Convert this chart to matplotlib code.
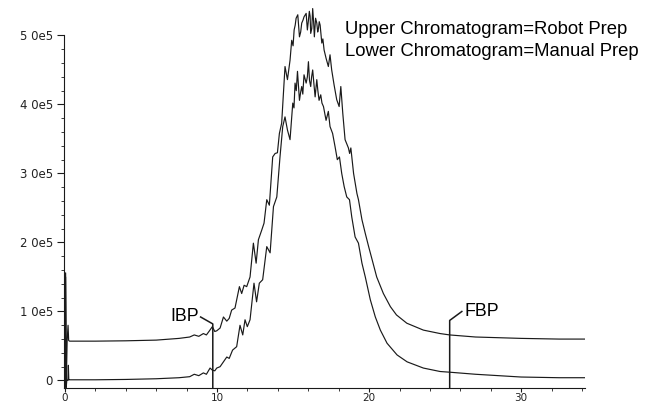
import matplotlib
matplotlib.use("Agg")
import matplotlib.pyplot as plt
from matplotlib.ticker import MultipleLocator, FixedLocator

# retention time (min) and abundance (x 1e5)
upper_time = [0.0, 0.04, 0.09, 0.14, 0.2, 0.24, 0.3, 2, 4, 6, 7.5, 8.2, 8.5, 8.8, 9.1, 9.3,
              9.5, 9.69, 9.85, 9.98, 10.2, 10.42, 10.64, 10.8, 10.96, 11.18, 11.47, 11.62,
              11.78, 11.95, 12.17, 12.39, 12.57, 12.72, 12.94, 13.09, 13.27, 13.44, 13.66,
              13.82, 13.97, 14.1, 14.25, 14.47, 14.63, 14.8, 14.91, 15.0, 15.07, 15.14,
              15.2, 15.31, 15.42, 15.5, 15.57, 15.65, 15.72, 15.86, 15.94, 16.0, 16.07,
              16.12, 16.16, 16.23, 16.29, 16.35, 16.4, 16.48, 16.56, 16.62, 16.67, 16.72,
              16.78, 16.89, 16.96, 17.04, 17.17, 17.32, 17.43, 17.54, 17.7, 17.87, 18.03,
              18.14, 18.27, 18.42, 18.64, 18.72, 18.8, 18.98, 19.2, 19.3, 19.53, 19.75,
              19.97, 20.2, 20.5, 20.94, 21.4, 21.8, 22.48, 23.57, 24.67, 25.3, 27, 30,
              32.5, 34.2]
upper_abund = [-0.08, 1.56, 0.0, 0.57, 0.8, 0.58, 0.57, 0.57, 0.575, 0.585, 0.61, 0.63, 0.66,
               0.64, 0.68, 0.66, 0.72, 0.78, 0.71, 0.72, 0.76, 0.92, 0.86, 0.9, 1.02, 1.05,
               1.36, 1.26, 1.38, 1.36, 1.5, 1.99, 1.7, 2.04, 2.18, 2.28, 2.62, 2.54, 3.24,
               3.29, 3.3, 3.58, 3.73, 4.55, 4.36, 4.64, 4.93, 4.85, 5.08, 5.15, 5.25, 5.3,
               4.98, 5.05, 5.18, 5.22, 5.27, 5.32, 5.08, 5.2, 5.35, 5.28, 5.03, 5.1, 5.39,
               5.2, 4.98, 5.25, 5.18, 5.05, 5.1, 5.2, 5.15, 4.89, 4.95, 4.79, 4.67, 4.55,
               4.72, 4.5, 4.28, 4.07, 3.97, 4.26, 3.87, 3.49, 3.37, 3.29, 3.37, 3.0, 2.71,
               2.62, 2.33, 2.13, 1.94, 1.75, 1.5, 1.26, 1.07, 0.95, 0.83, 0.73, 0.68, 0.66,
               0.63, 0.61, 0.6, 0.6]

lower_time = [0.0, 0.04, 0.08, 0.12, 0.19, 0.22, 0.25, 0.3, 2, 4, 6, 7.5, 8.2, 8.5, 8.8,
              9.1, 9.3, 9.54, 9.69, 9.85, 9.98, 10.2, 10.42, 10.64, 10.8, 11.02, 11.29,
              11.51, 11.69, 11.84, 11.99, 12.17, 12.43, 12.6, 12.78, 13.0, 13.27, 13.49,
              13.71, 13.93, 14.14, 14.32, 14.47, 14.63, 14.8, 14.98, 15.06, 15.13, 15.21,
              15.29, 15.42, 15.5, 15.57, 15.64, 15.72, 15.86, 15.94, 16.01, 16.08, 16.16,
              16.22, 16.29, 16.37, 16.45, 16.56, 16.63, 16.71, 16.82, 16.9, 17.0, 17.17,
              17.32, 17.43, 17.6, 17.76, 17.91, 18.05, 18.2, 18.36, 18.53, 18.71, 18.86,
              19.08, 19.3, 19.53, 19.75, 20.08, 20.41, 20.74, 21.18, 21.84, 22.5, 23.57,
              24.67, 25.3, 27, 30, 32.5, 34.2]
lower_abund = [-0.1, 1.5, -0.1, 0.01, 0.0, 0.22, 0.01, 0.01, 0.01, 0.015, 0.025, 0.04,
               0.055, 0.09, 0.07, 0.11, 0.09, 0.18, 0.15, 0.14, 0.18, 0.2, 0.27, 0.34, 0.32,
               0.44, 0.49, 0.8, 0.66, 0.88, 0.78, 0.88, 1.41, 1.14, 1.41, 1.46, 1.94, 1.85,
               2.52, 2.66, 3.24, 3.68, 3.82, 3.63, 3.49, 4.02, 3.95, 4.31, 4.2, 4.48, 4.06,
               4.18, 4.26, 4.15, 4.43, 4.31, 4.4, 4.62, 4.35, 4.26, 4.4, 4.5, 4.3, 4.11,
               4.36, 4.2, 4.06, 4.14, 4.02, 3.97, 3.77, 3.9, 3.68, 3.58, 3.39, 3.2, 3.24,
               3.0, 2.81, 2.66, 2.62, 2.37, 2.08, 1.99, 1.7, 1.5, 1.17, 0.92, 0.73, 0.54,
               0.37, 0.27, 0.18, 0.13, 0.12, 0.09, 0.05, 0.04, 0.04]

ibp_time = 9.72
fbp_time = 25.3
y_ticks = [0, 1, 2, 3, 4, 5]
y_tick_labels = ["0", "1 0e5", "2 0e5", "3 0e5", "4 0e5", "5 0e5"]
x_ticks = [0, 10, 20, 30]

W, H = 645, 403
fig = plt.figure(figsize=(W / 100, H / 100), dpi=100)
ax = fig.add_axes([64 / W, (H - 388) / H, (585 - 64) / W, 388 / H])

ink = "#1a1a1a"
ax.plot(upper_time, [v * 1e5 for v in upper_abund], color=ink, lw=0.85)
ax.plot(lower_time, [v * 1e5 for v in lower_abund], color=ink, lw=0.85)

ax.set_xlim(-0.066, 34.2)
ax.set_ylim(-0.109e5, 5.514e5)

# IBP / FBP markers with leader lines
ax.plot([ibp_time, ibp_time, ibp_time - 0.8], [-0.109e5, 0.82e5, 0.92e5], color=ink, lw=1.1)
ax.text(ibp_time - 0.92, 0.93e5, "IBP", ha="right", va="center", fontsize=12.8,
        family="Liberation Sans", color="black")
ax.plot([fbp_time, fbp_time, fbp_time + 0.8], [-0.109e5, 0.87e5, 1.0e5], color=ink, lw=1.1)
ax.text(fbp_time + 0.95, 1.0e5, "FBP", ha="left", va="center", fontsize=12.8,
        family="Liberation Sans", color="black")

fig.text(345 / W, 1 - 30 / H, "Upper Chromatogram=Robot Prep", ha="left", va="center",
         fontsize=13.3, family="Liberation Sans", color="black")
fig.text(345 / W, 1 - 52 / H, "Lower Chromatogram=Manual Prep", ha="left", va="center",
         fontsize=13.3, family="Liberation Sans", color="black")

ax.spines["top"].set_visible(False)
ax.spines["right"].set_visible(False)
ax.spines["left"].set_bounds(-0.109e5, 5e5)
for s in ("left", "bottom"):
    ax.spines[s].set_linewidth(0.8)
    ax.spines[s].set_color(ink)

ax.set_yticks([v * 1e5 for v in y_ticks])
ax.set_yticklabels(y_tick_labels)
ax.yaxis.set_minor_locator(FixedLocator([i * 0.2e5 for i in range(26)]))
ax.set_xticks(x_ticks)
ax.xaxis.set_minor_locator(MultipleLocator(2))
ax.tick_params(axis="y", which="major", length=5, width=0.8, color=ink,
               labelsize=8.5, labelcolor="#222222", pad=3)
ax.tick_params(axis="x", which="major", length=3, width=0.8, color=ink,
               labelsize=7.5, labelcolor="#222222", pad=0.5)
ax.tick_params(axis="both", which="minor", length=2.5, width=0.6, color=ink)

fig.savefig("out.png", dpi=100)
